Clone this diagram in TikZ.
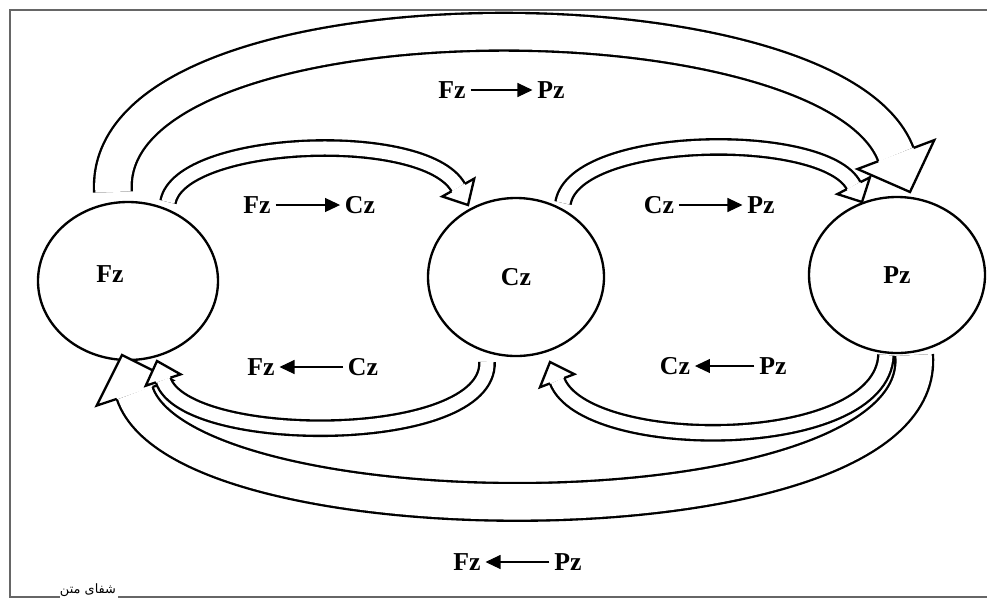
\documentclass[tikz,border=0pt]{standalone}
\usepackage{fontspec}
\setmainfont{Liberation Serif}
\newfontfamily\persianfont[Script=Arabic]{DejaVu Sans}
\TeXXeTstate=1
\usetikzlibrary{shapes.geometric,arrows.meta,calc}
\newcommand{\hlw}{2pt}
% hollow curved arrow: start, control 1, control 2, tip, gap, head half width, head length
\newcommand{\hollowarc}[7]{%
  \coordinate (ha-s) at #1;
  \coordinate (ha-a) at #2;
  \coordinate (ha-b) at #3;
  \coordinate (ha-t) at #4;
  \coordinate (ha-e) at ($(ha-t)!#7!(ha-b)$);
  \draw[line width=\hlw, double=white, double distance=#5] (ha-s) .. controls (ha-a) and (ha-b) .. (ha-e);
  \filldraw[fill=white, line width=\hlw, line join=miter]
    ($(ha-e)!#5/2+\hlw/2!90:(ha-b)$) -- ($(ha-e)!#6!90:(ha-b)$) -- (ha-t)
    -- ($(ha-e)!#6!-90:(ha-b)$) -- ($(ha-e)!#5/2+\hlw/2!-90:(ha-b)$);
}
\tikzset{
  zone/.style={draw, line width=\hlw, ellipse, minimum width=5.4cm, minimum height=4.74cm, inner sep=0pt},
  lab/.style={font=\fontsize{22}{24}\selectfont\bfseries, inner sep=4pt},
  flow/.style={line width=0.9pt, -{Triangle[length=0.45cm,width=0.42cm]}},
  frame/.style={draw=black!60, line width=1.4pt}
}
\begin{document}
\begin{tikzpicture}[x=0.03cm, y=-0.03cm]
\useasboundingbox (0,0) rectangle (987,606);
\draw[frame] (60,597) -- (10,597) -- (10,10) -- (987,10);
\draw[frame] (118,597) -- (987,597);
\node[inner sep=1pt] (mark) at (88,590) {\persianfont\fontsize{11}{12}\selectfont\beginR شفای متن\endR};

\node[zone] (Fz) at (128,281) {};
\node[zone, minimum width=5.28cm] (Cz) at (516,277) {};
\node[zone, minimum width=5.28cm, minimum height=4.68cm] (Pz) at (897,275) {};
\node[lab] (Fzt) at ($(Fz)+(-18,-7)$) {Fz};
\node[lab] (Czt) at (Cz) {Cz};
\node[lab] (Pzt) at (Pz) {Pz};

\hollowarc{($(Fz)+(-15,-89)$)}{(100,-15)}{(832,-15)}{($(Pz)+(13,-83)$)}{1.06cm}{1.23cm}{1.2cm}
\hollowarc{($(Pz)+(17,80)$)}{(930,544)}{(185,544)}{($(Fz)+(-6,74)$)}{1.06cm}{1.2cm}{1.2cm}
\hollowarc{($(Fz)+(40,-79)$)}{(180,138)}{(425,128)}{($(Cz)+(-48,-72)$)}{0.39cm}{0.55cm}{0.6cm}
\hollowarc{($(Cz)+(47,-74)$)}{(575,133)}{(825,130)}{($(Pz)+(-35,-73)$)}{0.39cm}{0.55cm}{0.55cm}
\hollowarc{($(Cz)+(-29,85)$)}{(490,447)}{(185,447)}{($(Fz)+(29,80)$)}{0.39cm}{0.55cm}{0.6cm}
\hollowarc{($(Pz)+(-11,80)$)}{(882,454)}{(585,454)}{($(Cz)+(34,85)$)}{0.39cm}{0.55cm}{0.6cm}

\node[lab] (a1) at (452,90) {Fz};
\node[lab] (b1) at (551,90) {Pz};
\draw[flow] (a1) -- (b1);
\node[lab] (a2) at (257,205) {Fz};
\node[lab] (b2) at (360,205) {Cz};
\draw[flow] (a2) -- (b2);
\node[lab] (a3) at (261,367) {Fz};
\node[lab] (b3) at (363,367) {Cz};
\draw[flow] (b3) -- (a3);
\node[lab] (a4) at (659,205) {Cz};
\node[lab] (b4) at (761,205) {Pz};
\draw[flow] (a4) -- (b4);
\node[lab] (a5) at (675,366) {Cz};
\node[lab] (b5) at (773,366) {Pz};
\draw[flow] (b5) -- (a5);
\node[lab] (a6) at (467,562) {Fz};
\node[lab] (b6) at (568,562) {Pz};
\draw[flow] (b6) -- (a6);
\end{tikzpicture}
\end{document}
